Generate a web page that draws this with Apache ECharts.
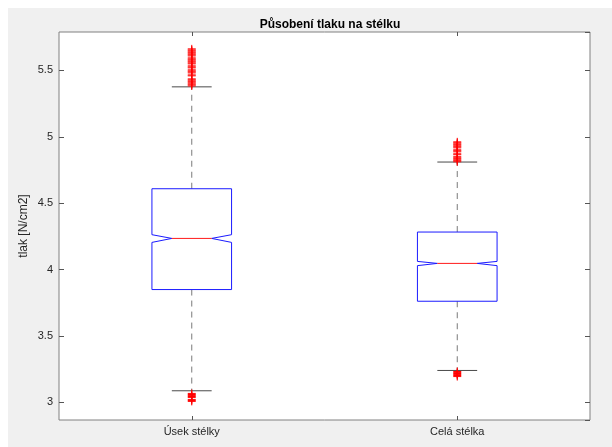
<!DOCTYPE html>
<html>
<head>
<meta charset="utf-8">
<script src="https://cdn.jsdelivr.net/npm/echarts@6/dist/echarts.min.js"></script>
<style>
  html, body { margin: 0; padding: 0; background: #ffffff; }
  #chart { width: 612px; height: 447px; }
</style>
</head>
<body>
<div id="chart"></div>
<script>
// Groups on the x axis
const categories = ['Úsek stélky', 'Celá stélka'];

// Box statistics per group (N/cm2)
const lowerWhisker = [3.088, 3.241];
const q1 = [3.850, 3.762];
const notchLow = [4.205, 4.030];
const median = [4.235, 4.047];
const notchHigh = [4.263, 4.062];
const q3 = [4.609, 4.283];
const upperWhisker = [5.376, 4.810];

// Outliers per group
const outliersUsek = [
  5.662, 5.654, 5.647, 5.639, 5.632, 5.624, 5.617, 5.609,
  5.594, 5.586, 5.579, 5.571, 5.564, 5.556, 5.549,
  5.534, 5.526, 5.519, 5.504, 5.496, 5.489, 5.481,
  5.466, 5.459, 5.436, 5.429, 5.421, 5.414, 5.406, 5.398, 5.391, 5.383,
  3.068, 3.060, 3.053, 3.045, 3.038, 3.023, 3.015, 3.008
];
const outliersCela = [
  4.962, 4.955, 4.947, 4.940, 4.932, 4.925, 4.917,
  4.902, 4.895, 4.887, 4.872, 4.865,
  4.850, 4.842, 4.835, 4.827, 4.820, 4.812,
  3.233, 3.226, 3.218, 3.211, 3.203, 3.195
];

// Axis range and tick labels
const yMin = 2.868;
const yMax = 5.789;
const yTickStep = 0.5;

const boxData = categories.map((c, i) => [
  i, lowerWhisker[i], q1[i], notchLow[i], median[i], notchHigh[i], q3[i], upperWhisker[i]
]);
const outlierData = [];
outliersUsek.forEach(v => outlierData.push([0, v]));
outliersCela.forEach(v => outlierData.push([1, v]));

const FONT = '"Liberation Sans", Arial, Helvetica, sans-serif';
const BOX_BLUE = '#1a1aff';
const MED_RED = '#ff1a1a';

function renderBox(params, api) {
  const idx = api.value(0);
  const band = api.size([1, 0])[0];
  const half = band * 0.15;
  const cx = api.coord([idx, 0])[0];
  const y = k => api.coord([idx, api.value(k)])[1];
  const yLoW = y(1), yQ1 = y(2), yNL = y(3), yMed = y(4), yNH = y(5), yQ3 = y(6), yHiW = y(7);
  const L = cx - half, R = cx + half, nL = cx - half / 2, nR = cx + half / 2;
  const dash = { stroke: '#7a7a7a', lineWidth: 1, lineDash: [6, 5] };
  const cap = { stroke: '#4a4a4a', lineWidth: 1 };
  return {
    type: 'group',
    children: [
      { type: 'line', shape: { x1: cx, y1: yQ3, x2: cx, y2: yHiW }, style: dash },
      { type: 'line', shape: { x1: cx, y1: yQ1, x2: cx, y2: yLoW }, style: dash },
      { type: 'line', shape: { x1: nL, y1: yHiW, x2: nR, y2: yHiW }, style: cap },
      { type: 'line', shape: { x1: nL, y1: yLoW, x2: nR, y2: yLoW }, style: cap },
      {
        type: 'polygon',
        shape: {
          points: [
            [L, yQ3], [L, yNH], [nL, yMed], [L, yNL], [L, yQ1],
            [R, yQ1], [R, yNL], [nR, yMed], [R, yNH], [R, yQ3]
          ]
        },
        style: { fill: 'none', stroke: BOX_BLUE, lineWidth: 1 }
      },
      { type: 'line', shape: { x1: nL, y1: yMed, x2: nR, y2: yMed }, style: { stroke: MED_RED, lineWidth: 1 } }
    ]
  };
}

function renderPlus(params, api) {
  const p = api.coord([api.value(0), api.value(1)]);
  const s = 4;
  const st = { stroke: '#ff0000', lineWidth: 1 };
  return {
    type: 'group',
    children: [
      { type: 'line', shape: { x1: p[0] - s, y1: p[1], x2: p[0] + s, y2: p[1] }, style: st },
      { type: 'line', shape: { x1: p[0], y1: p[1] - s, x2: p[0], y2: p[1] + s }, style: st }
    ]
  };
}

const chart = echarts.init(document.getElementById('chart'), null, { renderer: 'canvas' });

const tickStyle = { color: '#555555', width: 1 };

chart.setOption({
  backgroundColor: '#ffffff',
  animation: false,
  graphic: [
    { type: 'rect', z: -100, shape: { x: 8, y: 8, width: 604, height: 439 }, style: { fill: '#f0f0f0' } }
  ],
  title: {
    text: 'Působení tlaku na stélku',
    left: 325, top: 14, textAlign: 'center',
    textStyle: { fontFamily: FONT, fontSize: 12, fontWeight: 'bold', color: '#000000' }
  },
  grid: {
    left: 59, right: 22, top: 32, bottom: 27,
    show: true, backgroundColor: '#ffffff', borderColor: '#808080', borderWidth: 1
  },
  xAxis: [
    {
      type: 'category', data: categories, position: 'bottom', boundaryGap: true,
      axisLine: { show: false },
      axisTick: { show: true, inside: true, alignWithLabel: true, length: 4, lineStyle: tickStyle },
      axisLabel: { fontFamily: FONT, fontSize: 11, color: '#262626', margin: 6 },
      splitLine: { show: false }
    },
    {
      type: 'category', data: categories, position: 'top', boundaryGap: true,
      axisLine: { show: false },
      axisTick: { show: true, inside: true, alignWithLabel: true, length: 4, lineStyle: tickStyle },
      axisLabel: { show: false },
      splitLine: { show: false }
    }
  ],
  yAxis: [
    {
      type: 'value', min: yMin, max: yMax, minInterval: yTickStep, maxInterval: yTickStep,
      position: 'left',
      name: 'tlak [N/cm2]', nameLocation: 'middle', nameGap: 29, nameRotate: 90,
      nameMoveOverlap: false,
      nameTextStyle: { fontFamily: FONT, fontSize: 12, color: '#262626' },
      axisLine: { show: false },
      axisTick: { show: true, inside: true, length: 5, lineStyle: tickStyle },
      axisLabel: { fontFamily: FONT, fontSize: 11, color: '#262626', margin: 6, showMinLabel: false, showMaxLabel: false },
      splitLine: { show: false }
    },
    {
      type: 'value', min: yMin, max: yMax, minInterval: yTickStep, maxInterval: yTickStep,
      position: 'right',
      axisLine: { show: false },
      axisTick: { show: true, inside: true, length: 5, lineStyle: tickStyle },
      axisLabel: { show: false },
      splitLine: { show: false }
    }
  ],
  series: [
    {
      type: 'custom', name: 'boxes', xAxisIndex: 0, yAxisIndex: 0,
      renderItem: renderBox, data: boxData, z: 2,
      encode: { x: 0, y: [1, 2, 3, 4, 5, 6, 7] }
    },
    {
      type: 'custom', name: 'outliers', xAxisIndex: 0, yAxisIndex: 0,
      renderItem: renderPlus, data: outlierData, z: 3,
      encode: { x: 0, y: 1 }
    }
  ]
});
</script>
</body>
</html>
